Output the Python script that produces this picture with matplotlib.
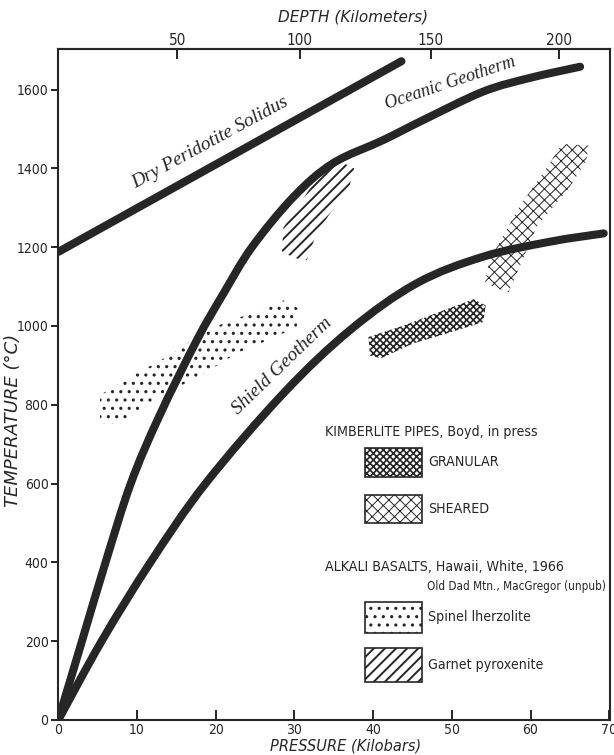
import matplotlib
matplotlib.use("Agg")
import matplotlib.pyplot as plt
from matplotlib import font_manager
from matplotlib.font_manager import FontProperties
from matplotlib.patches import Polygon, Rectangle, PathPatch
from matplotlib.path import Path

# geotherms and solidus, pressure (kbar) vs temperature (deg C)
solidus_p = [0.0, 43.6]
solidus_t = [1188, 1672]

oceanic_p = [0.0, 3.0, 6.0, 9.2, 12.8, 17.6, 21.0, 24.6, 29.9, 34.9,
             41.3, 46.4, 54.0, 60.0, 66.3]
oceanic_t = [0, 200, 400, 600, 770, 964, 1083, 1200, 1328, 1413,
             1472, 1523, 1595, 1630, 1658]

shield_p = [0.0, 5.5, 11.7, 18.7, 28.6, 37.1, 45.5, 54.0, 62.5, 69.3]
shield_t = [0, 200, 400, 600, 829, 990, 1108, 1176, 1214, 1235]

# nodule fields
spinel_p = [5.3, 5.3, 10.0, 14.6, 18.9, 22.7, 26.0, 28.6, 30.5, 30.3, 27.7, 22.7,
            18.9, 12.9, 7.9]
spinel_t = [753, 825, 880, 931, 990, 1020, 1040, 1065, 1045, 998, 973, 931,
            884, 820, 753]

garnet_p = [28.4, 28.6, 31.0, 33.5, 35.0, 37.6, 36.8, 34.5, 32.8, 31.6, 30.0]
garnet_t = [1190, 1250, 1320, 1395, 1425, 1400, 1340, 1285, 1235, 1168, 1172]

granular_p = [39.6, 39.4, 44.0, 49.0, 52.8, 54.3, 54.0, 50.0, 45.0, 41.0]
granular_t = [925, 972, 1002, 1040, 1068, 1052, 1010, 985, 955, 918]

sheared_p = [54.2, 54.8, 58.6, 62.0, 64.0, 67.4, 67.1, 65.0, 60.8, 57.2]
sheared_t = [1108, 1168, 1303, 1400, 1462, 1458, 1421, 1353, 1252, 1085]

# depth scale along the top
depth_km = [50, 100, 150, 200]
depth_p = [15.1, 30.7, 47.3, 63.6]

t_ticks = list(range(0, 1601, 200))
p_ticks = list(range(0, 71, 10))

ink = "#262626"


def condensed_font(italic=False):
    """Look for an installed narrow/condensed sans face."""
    want = "italic" if italic else "normal"
    best = None
    for f in font_manager.fontManager.ttflist:
        low = f.name.lower() + " " + f.fname.lower()
        if "mono" in low or "serif" in low or "cjk" in low:
            continue
        if any(w in low for w in ("extra", "ultra", "semicond", "semi-cond")):
            continue
        narrow = f.stretch in ("condensed", "semi-condensed") or \
            "condensed" in low or "narrow" in low
        if not narrow or f.weight not in (400, "normal", "regular"):
            continue
        if (f.style == "normal") != (want == "normal"):
            continue
        score = 0 if "sans" in low else 1
        if best is None or score < best[0]:
            best = (score, f.fname)
    if best:
        return FontProperties(fname=best[1]), True
    return FontProperties(family="Liberation Sans",
                          style="italic" if italic else "normal"), False


narrow_fp, have_narrow = condensed_font()


def fp(size):
    p = narrow_fp.copy()
    p.set_size(size if have_narrow else size * 0.86)
    return p


def smooth(xs, ys):
    # Catmull-Rom through the read points, as cubic Bezier segments
    pts = list(zip(xs, ys))
    verts, codes = [pts[0]], [Path.MOVETO]
    for i in range(len(pts) - 1):
        p0 = pts[i - 1] if i > 0 else pts[i]
        p1, p2 = pts[i], pts[i + 1]
        p3 = pts[i + 2] if i + 2 < len(pts) else p2
        c1 = (p1[0] + (p2[0] - p0[0]) / 6, p1[1] + (p2[1] - p0[1]) / 6)
        c2 = (p2[0] - (p3[0] - p1[0]) / 6, p2[1] - (p3[1] - p1[1]) / 6)
        verts += [c1, c2, p2]
        codes += [Path.CURVE4] * 3
    return Path(verts, codes)


def hatched(patch, lw):
    if hasattr(patch, "set_hatch_linewidth"):
        patch.set_hatch_linewidth(lw)
    return patch


plt.rcParams["hatch.linewidth"] = 1.0

fig = plt.figure(figsize=(6.14, 7.55), dpi=100)
ax = fig.add_axes([0.095, 0.0464, 0.8985, 0.8887])
ax.set_xlim(0, 70.1)
ax.set_ylim(0, 1703)

# shaded fields first so the curves sit on top
fields = [
    (spinel_p, spinel_t, "..", 1.1),
    (garnet_p, garnet_t, "///", 1.4),
    (granular_p, granular_t, "xxxxx", 1.2),
    (sheared_p, sheared_t, "xxx", 0.7),
]
for pp, tt, h, hlw in fields:
    ax.add_patch(hatched(Polygon(list(zip(pp, tt)), closed=True, facecolor="white",
                                 edgecolor=ink, linewidth=0, hatch=h, zorder=2), hlw))

for pp, tt in [(solidus_p, solidus_t), (oceanic_p, oceanic_t), (shield_p, shield_t)]:
    ax.add_patch(PathPatch(smooth(pp, tt), fill=False, edgecolor=ink, lw=5.8,
                           capstyle="round", joinstyle="round", zorder=3))

lbl = dict(family="Liberation Serif", style="italic", color=ink,
           rotation_mode="anchor", ha="center", va="bottom")
ax.text(19.8, 1447, "Dry Peridotite Solidus", rotation=28.5, fontsize=14, **lbl)
ax.text(50.2, 1597, "Oceanic Geotherm", rotation=18.5, fontsize=13, **lbl)
ax.text(29.2, 882, "Shield Geotherm", rotation=44, fontsize=14, **lbl)

# key
key = dict(color=ink, va="center", ha="left")
ax.text(33.9, 731, "KIMBERLITE PIPES, Boyd, in press", fontproperties=fp(10.2), **key)
ax.text(33.9, 388, "ALKALI BASALTS, Hawaii, White, 1966", fontproperties=fp(10.2), **key)
ax.text(46.8, 338, "Old Dad Mtn., MacGregor (unpub)", fontproperties=fp(8.4), **key)
rows = [
    (617, 690, "xxxxx", 1.2, "GRANULAR"),
    (500, 571, "xxx", 0.7, "SHEARED"),
    (221, 300, "..", 1.1, "Spinel lherzolite"),
    (96, 183, "///", 1.4, "Garnet pyroxenite"),
]
for lo, hi, h, hlw, name in rows:
    ax.add_patch(hatched(Rectangle((39.0, lo), 7.2, hi - lo, facecolor="white",
                                   edgecolor=ink, linewidth=1.2, hatch=h, zorder=2), hlw))
    ax.text(47.0, (lo + hi) / 2, name, fontproperties=fp(10.2), **key)

ax.set_xticks(p_ticks)
ax.set_yticks(t_ticks)
ax.tick_params(axis="x", direction="in", length=7, width=1.4, pad=2, colors=ink)
ax.tick_params(axis="y", direction="out", length=5, width=1.4, pad=2, colors=ink)
for lab in ax.get_xticklabels() + ax.get_yticklabels():
    lab.set_fontproperties(fp(10))

top = ax.secondary_xaxis("top")
top.set_xticks(depth_p, [str(d) for d in depth_km])
top.tick_params(direction="in", length=7, width=1.4, pad=1, colors=ink)
for lab in top.get_xticklabels():
    lab.set_fontproperties(fp(11))
top.set_xlabel("DEPTH (Kilometers)", family="DejaVu Sans", style="italic",
               fontsize=11, color=ink, labelpad=8)
top.xaxis.label.set_x(0.534)

ax.set_xlabel("PRESSURE (Kilobars)", family="DejaVu Sans", style="italic",
              fontsize=10.5, color=ink)
ax.set_ylabel("TEMPERATURE (\u00b0C)", family="DejaVu Sans", style="italic",
              fontsize=13, color=ink)
ax.xaxis.set_label_coords(0.52, -0.028)
ax.yaxis.set_label_coords(-0.066, 0.447)

for sp in list(ax.spines.values()) + list(top.spines.values()):
    sp.set_linewidth(1.5)
    sp.set_color(ink)

fig.savefig("out.png", dpi=100)
